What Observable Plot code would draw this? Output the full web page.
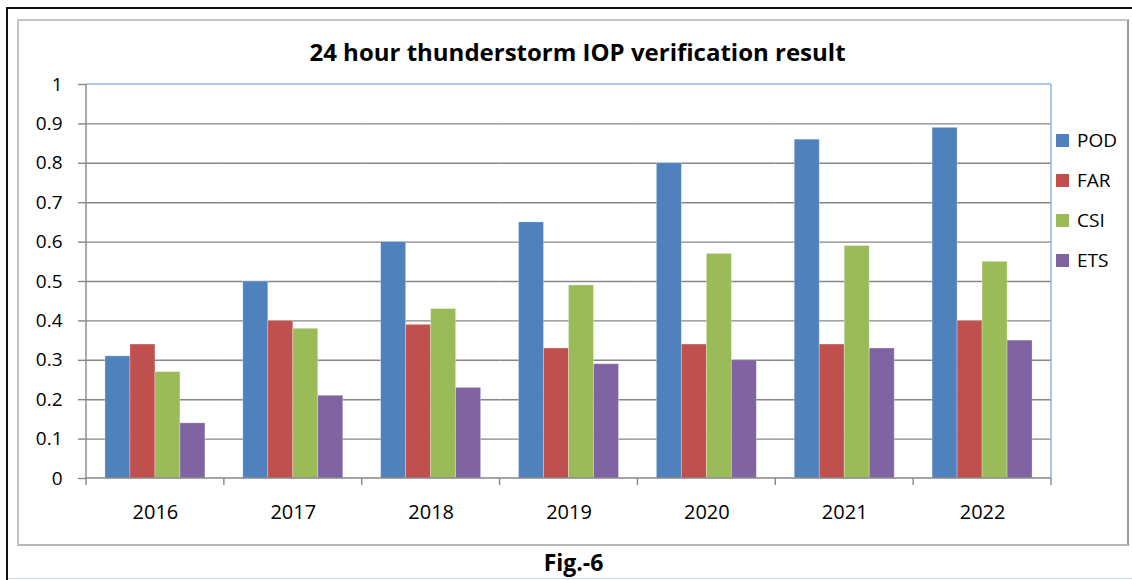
<!DOCTYPE html>
<html>
<head>
<meta charset="utf-8">
<script src="https://cdn.jsdelivr.net/npm/d3@7"></script>
<script src="https://cdn.jsdelivr.net/npm/@observablehq/plot@0.6"></script>
<style>
  html, body { margin: 0; padding: 0; background: #fff; }
  #wrap { position: relative; width: 1132px; height: 580px; overflow: hidden; font-family: "Open Sans", Lato, sans-serif; color: #000; }
  #wrap svg.plot { position: absolute; left: 0; top: 0; }
  .outerTop { position: absolute; left: 6px; top: 7px; width: 1126px; height: 2px; background: #111; }
  .outerLeft { position: absolute; left: 6px; top: 7px; width: 2px; height: 573px; background: #111; }
  .outerBottom { position: absolute; left: 8px; top: 578px; width: 1124px; height: 1px; background: #c6d9f1; }
  .inner { position: absolute; left: 17px; top: 19px; width: 1108px; height: 523px; border: 2px solid #c4c4c4; border-right-color: #9a9a9a; border-bottom-color: #b8b8b8; }
  #title { position: absolute; left: 0; width: 1155px; top: 36px; line-height: 32px; text-align: center; font-weight: 700; font-size: 24px; }
  #caption { position: absolute; left: 0; width: 1147px; top: 547px; line-height: 30px; text-align: center; font-weight: 700; font-size: 23px; }
  #legend { position: absolute; left: 1056px; top: 120px; }
  .item { display: flex; align-items: center; height: 40px; font-size: 19px; }
  .sw { width: 13px; height: 13px; margin-right: 8px; }
</style>
</head>
<body>
<div id="wrap">
  <div class="outerTop"></div>
  <div class="outerLeft"></div>
  <div class="outerBottom"></div>
  <div class="inner"></div>
  <div id="title">24 hour thunderstorm IOP verification result</div>
  <div id="legend"></div>
  <div id="caption">Fig.-6</div>
</div>
<script>
const years = ["2016", "2017", "2018", "2019", "2020", "2021", "2022"];
const series = ["POD", "FAR", "CSI", "ETS"];
const POD = [0.31, 0.50, 0.60, 0.65, 0.80, 0.86, 0.89];
const FAR = [0.34, 0.40, 0.39, 0.33, 0.34, 0.34, 0.40];
const CSI = [0.27, 0.38, 0.43, 0.49, 0.57, 0.59, 0.55];
const ETS = [0.14, 0.21, 0.23, 0.29, 0.30, 0.33, 0.35];
const colors = ["#4F81BD", "#C0504D", "#9BBB59", "#8064A2"];
const yTicks = [0, 0.1, 0.2, 0.3, 0.4, 0.5, 0.6, 0.7, 0.8, 0.9, 1];
const gridTicks = [0.1, 0.2, 0.3, 0.4, 0.5, 0.6, 0.7, 0.8, 0.9];

const valuesBySeries = {POD, FAR, CSI, ETS};
const data = years.flatMap((yr, i) => series.map(s => ({year: yr, series: s, value: valuesBySeries[s][i]})));

const plot = Plot.plot({
  width: 1132,
  height: 580,
  marginLeft: 86,
  marginRight: 81,
  marginTop: 84,
  marginBottom: 102,
  style: {fontFamily: "'Open Sans', Lato, sans-serif", fontSize: "19px", color: "#000", background: "transparent", overflow: "visible"},
  fx: {domain: years, padding: 0, round: false, label: null, axis: null},
  x: {domain: series, paddingInner: 0, paddingOuter: 0.758, round: false, axis: null},
  y: {domain: [0, 1], label: null, axis: null},
  color: {domain: series, range: colors},
  marks: [
    Plot.gridY(gridTicks, {stroke: "#868686", strokeOpacity: 1, strokeWidth: 1.4}),
    Plot.barY(data, {fx: "year", x: "series", y: "value", fill: "series", stroke: "#ffffff", strokeOpacity: 0.35, strokeWidth: 0.8}),
    Plot.axisY(yTicks, {anchor: "left", tickSize: 8, tickPadding: 16, stroke: "#868686", strokeWidth: 1.4, fill: "#000", fontSize: 19, tickFormat: d => String(+d.toFixed(1)), label: null}),
    Plot.axisFx({anchor: "bottom", tickSize: 0, tickPadding: 26, label: null, fill: "#000", fontSize: 20})
  ]
});
plot.classList.add("plot");
document.getElementById("wrap").prepend(plot);

// plot-area frame and category boundary ticks from the library's scales
const fx = plot.scale("fx");
const ys = plot.scale("y");
const x0 = fx.range[0], x1 = fx.range[1];
const yTop = ys.apply(1), yBot = ys.apply(0);
const svg = d3.select(plot);
const g = svg.append("g");
g.append("line").attr("x1", x0).attr("x2", x1).attr("y1", yTop).attr("y2", yTop).attr("stroke", "#8eb4e3").attr("stroke-width", 1.5);
g.append("line").attr("x1", x1).attr("x2", x1).attr("y1", yTop).attr("y2", yBot).attr("stroke", "#8eb4e3").attr("stroke-width", 1.5);
g.append("line").attr("x1", x0).attr("x2", x0).attr("y1", yTop).attr("y2", yBot + 7).attr("stroke", "#868686").attr("stroke-width", 1.4);
g.append("line").attr("x1", x0).attr("x2", x1).attr("y1", yBot).attr("y2", yBot).attr("stroke", "#868686").attr("stroke-width", 1.4);
const step = (x1 - x0) / years.length;
years.forEach((yr, i) => {
  const bx = fx.apply(yr) + step;
  g.append("line").attr("x1", bx).attr("x2", bx).attr("y1", yBot).attr("y2", yBot + 7).attr("stroke", "#868686").attr("stroke-width", 1.4);
});

// legend
const legend = d3.select("#legend");
series.forEach((s, i) => {
  const it = legend.append("div").attr("class", "item");
  it.append("div").attr("class", "sw").style("background", colors[i]);
  it.append("span").text(s);
});
</script>
</body>
</html>
